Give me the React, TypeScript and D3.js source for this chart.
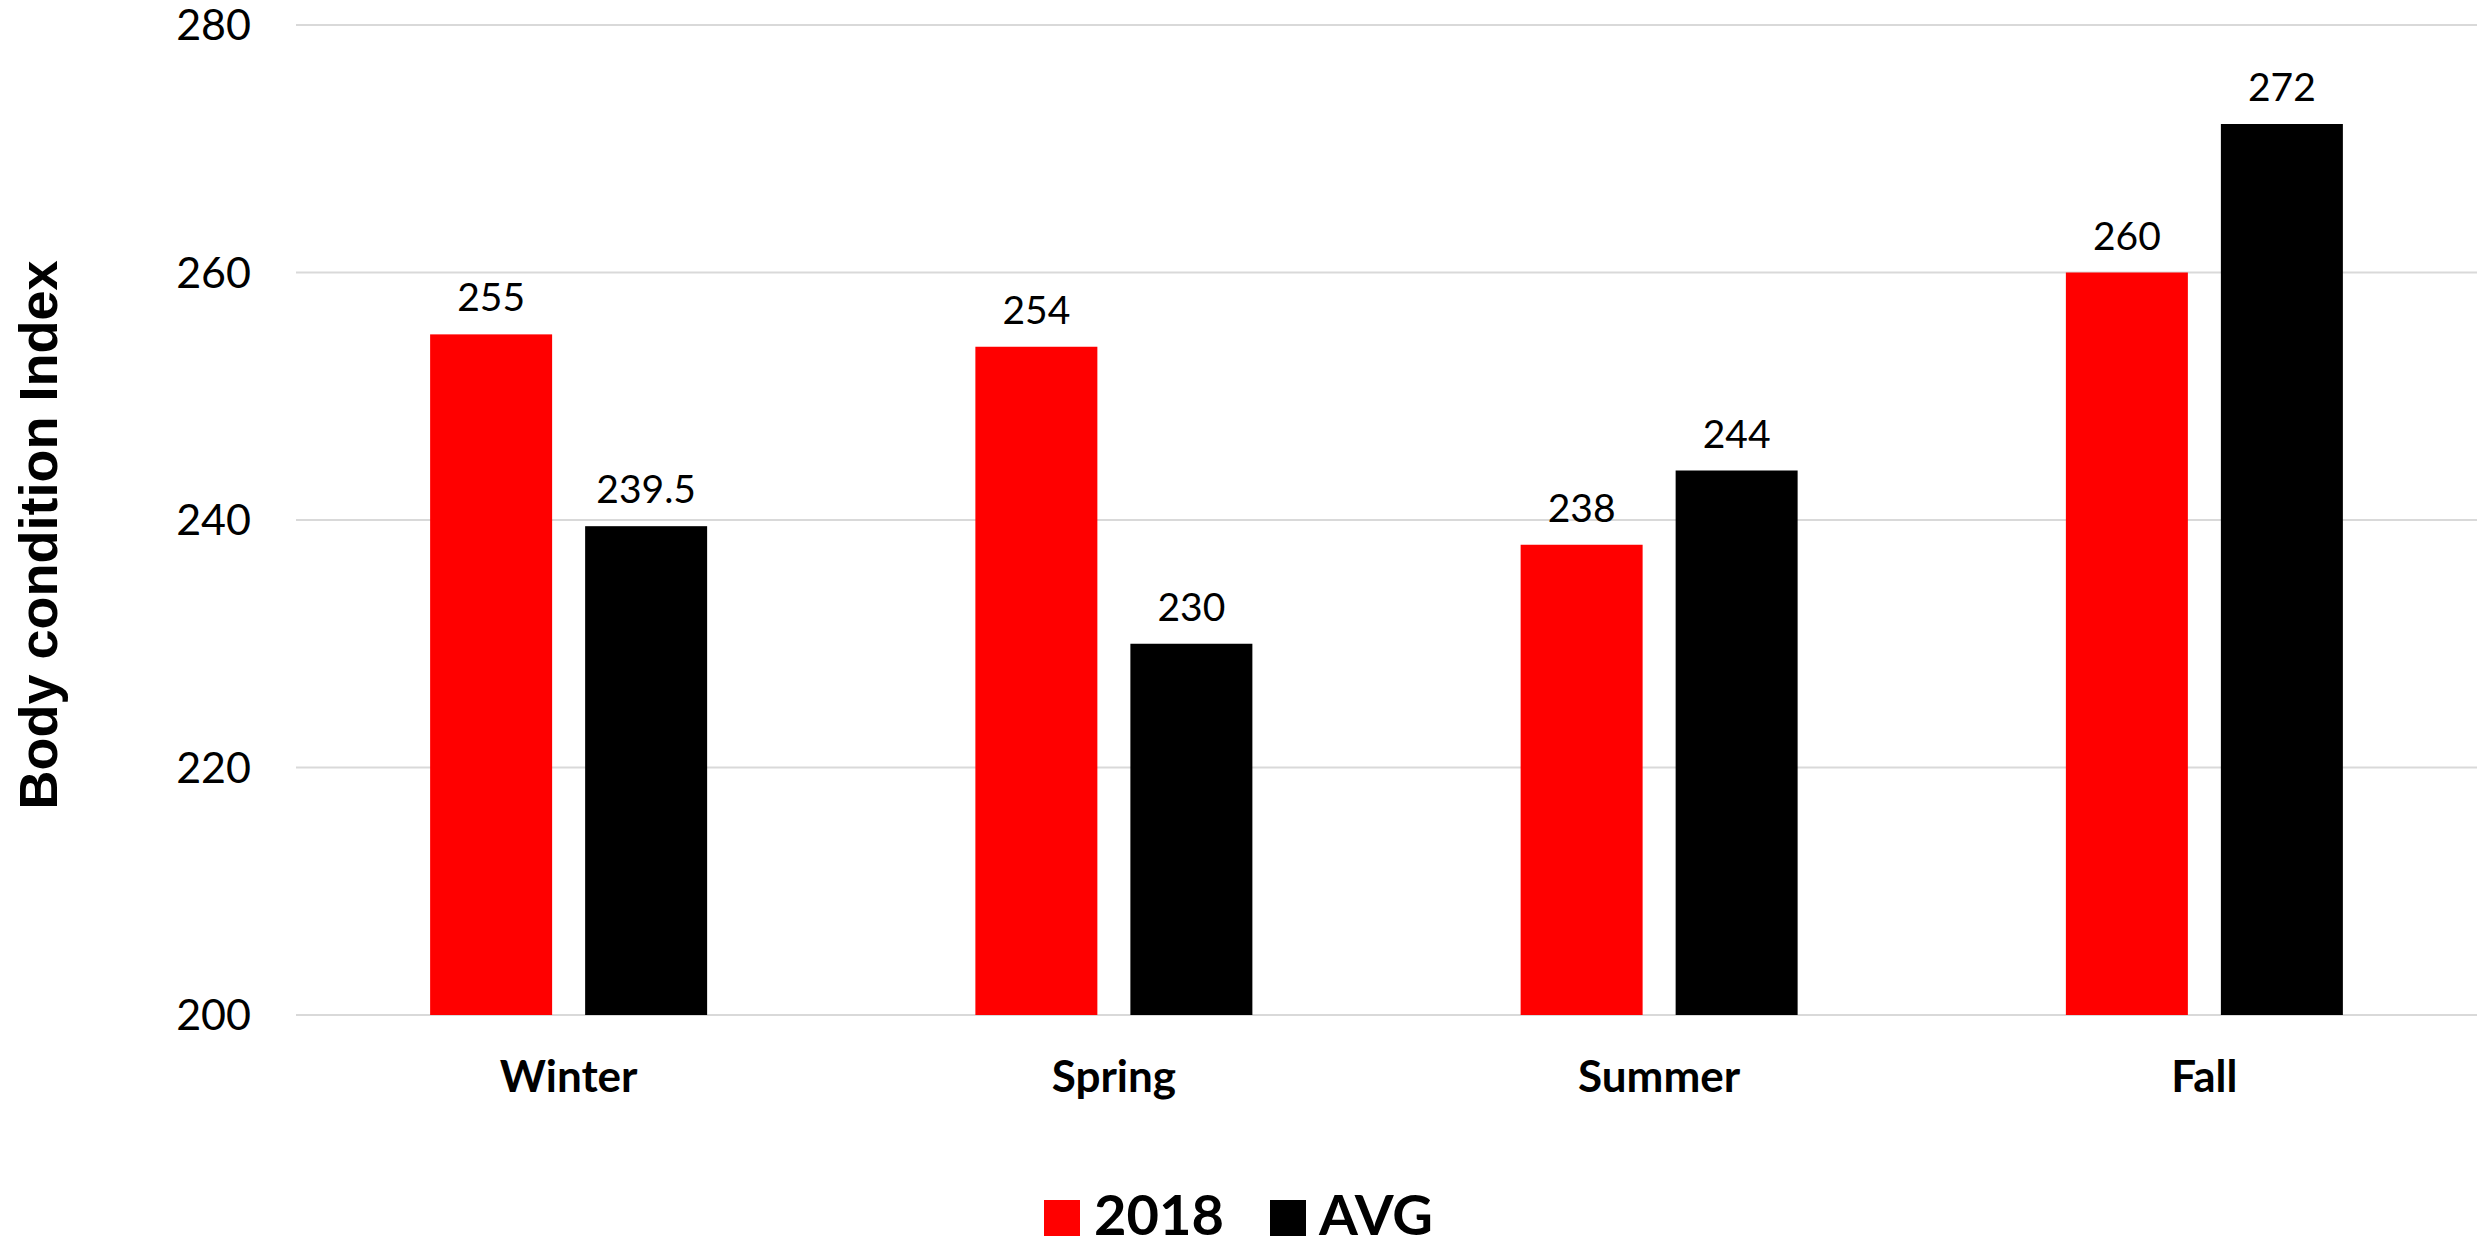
import * as d3 from "d3";

// Chart data
const SEASONS = ["Winter", "Spring", "Summer", "Fall"];
const SERIES = ["2018", "AVG"];
const VALUES_2018 = [255, 254, 238, 260];
const VALUES_AVG = [239.5, 230, 244, 272];
const LABELS_2018 = ["255", "254", "238", "260"];
const LABELS_AVG = ["239.5", "230", "244", "272"];
const Y_TICKS = [200, 220, 240, 260, 280];

const W = 2478;
const H = 1245;
const LEFT = 296;
const RIGHT = 2477;
const TOP = 25;
const BOTTOM = 1015;

const COLORS: Record<string, string> = { "2018": "#FF0000", AVG: "#000000" };
const GRID = "#D9D9D9";
const FONT = "Lato, 'Open Sans', sans-serif";

export default function App() {
  const x = d3.scaleBand<string>().domain(SEASONS).range([LEFT, RIGHT]);
  const bw = x.bandwidth();
  const pair = 277; // two bars + gap
  const x1 = d3
    .scaleBand<string>()
    .domain(SERIES)
    .range([(bw - pair) / 2, (bw + pair) / 2])
    .paddingInner(0.213);
  const y = d3.scaleLinear().domain([200, 280]).range([BOTTOM, TOP]);

  const rows = SEASONS.map((s, i) => ({
    season: s,
    bars: [
      { key: "2018", v: VALUES_2018[i], label: LABELS_2018[i] },
      { key: "AVG", v: VALUES_AVG[i], label: LABELS_AVG[i] },
    ],
  }));

  return (
    <svg
      width={W}
      height={H}
      style={{ position: "absolute", left: 0, top: 0, background: "#fff" }}
    >
      {/* gridlines */}
      {Y_TICKS.map((t) => (
        <line
          key={t}
          x1={LEFT}
          x2={RIGHT}
          y1={y(t)}
          y2={y(t)}
          stroke={GRID}
          strokeWidth={2}
        />
      ))}
      {/* y tick labels */}
      {Y_TICKS.map((t) => (
        <text
          key={"t" + t}
          x={251}
          y={y(t)}
          dy="0.36em"
          textAnchor="end"
          fontFamily={FONT}
          fontSize={43}
          fill="#000"
        >
          {t}
        </text>
      ))}
      {/* bars */}
      {rows.map((r) => (
        <g key={r.season} transform={`translate(${x(r.season)},0)`}>
          {r.bars.map((b) => (
            <g key={b.key}>
              <rect
                x={x1(b.key)}
                y={y(b.v)}
                width={x1.bandwidth()}
                height={BOTTOM - y(b.v)}
                fill={COLORS[b.key]}
              />
              <text
                x={(x1(b.key) ?? 0) + x1.bandwidth() / 2}
                y={y(b.v) - 23}
                textAnchor="middle"
                fontFamily={FONT}
                fontSize={39}
                fill="#000"
              >
                {b.label}
              </text>
            </g>
          ))}
          <text
            x={bw / 2}
            y={1092}
            textAnchor="middle"
            fontFamily={FONT}
            fontWeight="bold"
            fontSize={44}
            fill="#000"
          >
            {r.season}
          </text>
        </g>
      ))}
      {/* y axis title */}
      <text
        transform={`translate(57,${(TOP + BOTTOM) / 2 + 15}) rotate(-90)`}
        textAnchor="middle"
        fontFamily="'Liberation Sans', Arial, sans-serif"
        fontWeight="bold"
        fontSize={54}
        fill="#000"
      >
        Body condition Index
      </text>
      {/* legend */}
      <rect x={1044} y={1200} width={36} height={36} fill={COLORS["2018"]} />
      <text
        x={1094}
        y={1235}
        fontFamily={FONT}
        fontWeight="bold"
        fontSize={56}
        fill="#000"
      >
        2018
      </text>
      <rect x={1270} y={1200} width={36} height={36} fill={COLORS.AVG} />
      <text
        x={1319}
        y={1235}
        fontFamily={FONT}
        fontWeight="bold"
        fontSize={56}
        fill="#000"
      >
        AVG
      </text>
    </svg>
  );
}
